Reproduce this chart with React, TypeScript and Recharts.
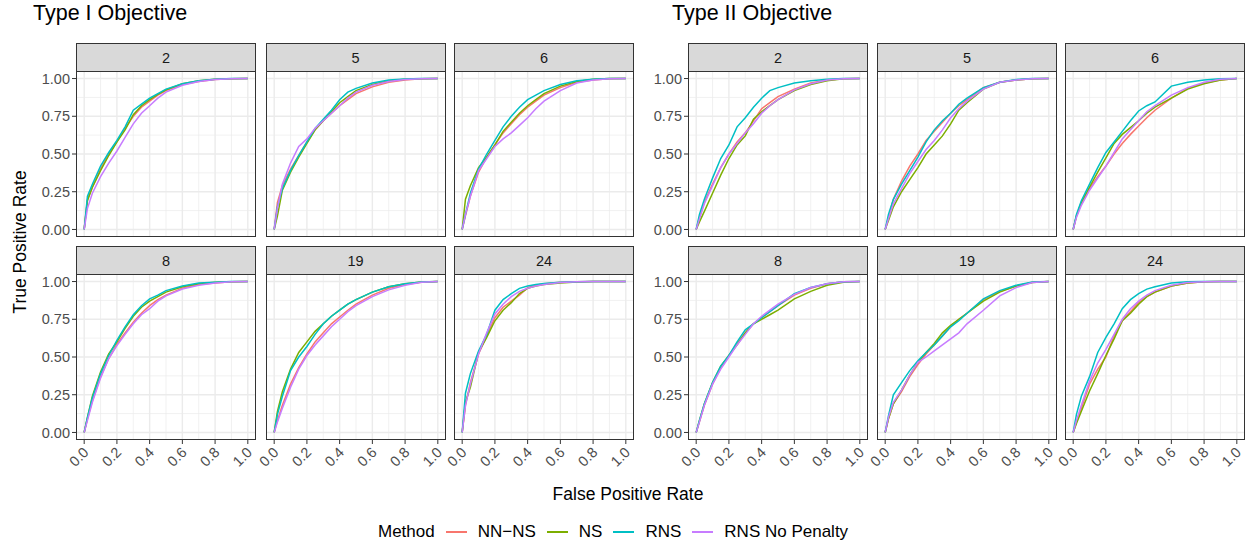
import { LineChart, Line, XAxis, YAxis, CartesianGrid } from 'recharts';

const fpr = [0, 0.02, 0.05, 0.1, 0.15, 0.2, 0.25, 0.3, 0.35, 0.4, 0.45, 0.5, 0.6, 0.7, 0.8, 0.9, 1.0];
const methods = ['NN-NS', 'NS', 'RNS', 'RNS No Penalty'];
const methodLabels = ['NN\u2212NS', 'NS', 'RNS', 'RNS No Penalty'];
const colors = ['#F8766D', '#7CAE00', '#00BFC4', '#C77CFF'];
const objectives = ['Type I Objective', 'Type II Objective'];
const facets = ['2', '5', '6', '8', '19', '24'];
const xTicks = [0, 0.2, 0.4, 0.6, 0.8, 1];
const yTicks = [0, 0.25, 0.5, 0.75, 1];
const xMinor = [0.1, 0.3, 0.5, 0.7, 0.9];
const yMinor = [0.125, 0.375, 0.625, 0.875];

// true positive rate at each fpr, rows: NN-NS, NS, RNS, RNS No Penalty
const tprI_2 = [
  [0, 0.20, 0.28, 0.40, 0.50, 0.58, 0.67, 0.75, 0.81, 0.85, 0.89, 0.92, 0.96, 0.98, 0.993, 0.999, 1],
  [0, 0.19, 0.28, 0.39, 0.49, 0.58, 0.66, 0.76, 0.82, 0.86, 0.895, 0.925, 0.965, 0.985, 0.995, 0.999, 1],
  [0, 0.22, 0.30, 0.42, 0.51, 0.59, 0.68, 0.79, 0.83, 0.87, 0.90, 0.93, 0.965, 0.985, 0.995, 1, 1],
  [0, 0.14, 0.24, 0.35, 0.44, 0.52, 0.61, 0.70, 0.77, 0.82, 0.87, 0.91, 0.955, 0.98, 0.993, 0.999, 1],
];
const tprI_5 = [
  [0, 0.18, 0.29, 0.40, 0.49, 0.58, 0.66, 0.72, 0.77, 0.82, 0.86, 0.90, 0.945, 0.975, 0.99, 0.998, 1],
  [0, 0.09, 0.26, 0.38, 0.48, 0.57, 0.66, 0.72, 0.78, 0.84, 0.88, 0.92, 0.96, 0.985, 0.995, 0.999, 1],
  [0, 0.15, 0.27, 0.39, 0.49, 0.58, 0.67, 0.73, 0.79, 0.86, 0.91, 0.935, 0.97, 0.99, 0.997, 1, 1],
  [0, 0.14, 0.30, 0.44, 0.55, 0.60, 0.67, 0.72, 0.77, 0.82, 0.87, 0.91, 0.955, 0.98, 0.993, 0.999, 1],
];
const tprI_6 = [
  [0, 0.09, 0.22, 0.38, 0.48, 0.56, 0.64, 0.70, 0.76, 0.81, 0.85, 0.89, 0.94, 0.975, 0.99, 0.999, 1],
  [0, 0.20, 0.29, 0.41, 0.48, 0.56, 0.65, 0.71, 0.77, 0.82, 0.86, 0.90, 0.95, 0.98, 0.995, 1, 1],
  [0, 0.10, 0.24, 0.40, 0.50, 0.59, 0.68, 0.75, 0.81, 0.86, 0.89, 0.92, 0.96, 0.985, 0.995, 1, 1],
  [0, 0.10, 0.22, 0.39, 0.47, 0.55, 0.60, 0.64, 0.69, 0.74, 0.80, 0.85, 0.92, 0.97, 0.99, 0.999, 1],
];
const tprI_8 = [
  [0, 0.09, 0.21, 0.37, 0.49, 0.585, 0.66, 0.73, 0.79, 0.84, 0.88, 0.91, 0.955, 0.98, 0.99, 0.998, 1],
  [0, 0.10, 0.24, 0.40, 0.52, 0.60, 0.69, 0.77, 0.83, 0.87, 0.90, 0.93, 0.965, 0.985, 0.995, 0.999, 1],
  [0, 0.10, 0.23, 0.39, 0.51, 0.61, 0.70, 0.78, 0.84, 0.885, 0.91, 0.94, 0.97, 0.99, 0.996, 1, 1],
  [0, 0.08, 0.20, 0.36, 0.49, 0.575, 0.65, 0.72, 0.78, 0.82, 0.87, 0.905, 0.95, 0.975, 0.99, 0.998, 1],
];
const tprI_19 = [
  [0, 0.08, 0.18, 0.32, 0.43, 0.52, 0.60, 0.66, 0.72, 0.765, 0.81, 0.85, 0.91, 0.955, 0.98, 0.995, 1],
  [0, 0.14, 0.27, 0.42, 0.53, 0.60, 0.67, 0.72, 0.77, 0.81, 0.85, 0.88, 0.93, 0.965, 0.985, 0.997, 1],
  [0, 0.12, 0.24, 0.41, 0.50, 0.57, 0.65, 0.72, 0.77, 0.81, 0.85, 0.88, 0.93, 0.965, 0.985, 0.997, 1],
  [0, 0.07, 0.16, 0.30, 0.42, 0.51, 0.58, 0.64, 0.70, 0.75, 0.80, 0.84, 0.90, 0.945, 0.975, 0.995, 1],
];
const tprI_24 = [
  [0, 0.18, 0.33, 0.52, 0.64, 0.76, 0.83, 0.87, 0.91, 0.96, 0.975, 0.985, 0.995, 0.999, 1, 1, 1],
  [0, 0.20, 0.30, 0.53, 0.63, 0.74, 0.81, 0.86, 0.92, 0.955, 0.97, 0.98, 0.99, 0.997, 1, 1, 1],
  [0, 0.26, 0.39, 0.54, 0.65, 0.81, 0.88, 0.92, 0.955, 0.97, 0.98, 0.987, 0.995, 0.999, 1, 1, 1],
  [0, 0.18, 0.32, 0.52, 0.66, 0.785, 0.85, 0.90, 0.935, 0.955, 0.97, 0.98, 0.993, 0.998, 1, 1, 1],
];
const tprII_2 = [
  [0, 0.08, 0.18, 0.30, 0.41, 0.50, 0.58, 0.64, 0.72, 0.80, 0.84, 0.88, 0.93, 0.97, 0.99, 0.998, 1],
  [0, 0.05, 0.12, 0.24, 0.36, 0.47, 0.56, 0.62, 0.73, 0.78, 0.82, 0.86, 0.92, 0.96, 0.985, 0.998, 1],
  [0, 0.10, 0.20, 0.34, 0.47, 0.56, 0.68, 0.74, 0.81, 0.87, 0.92, 0.94, 0.97, 0.985, 0.995, 1, 1],
  [0, 0.07, 0.17, 0.29, 0.41, 0.50, 0.57, 0.64, 0.70, 0.77, 0.82, 0.86, 0.925, 0.965, 0.99, 0.998, 1],
];
const tprII_5 = [
  [0, 0.08, 0.20, 0.32, 0.42, 0.50, 0.59, 0.65, 0.71, 0.77, 0.82, 0.86, 0.94, 0.975, 0.99, 0.999, 1],
  [0, 0.06, 0.15, 0.25, 0.33, 0.41, 0.50, 0.56, 0.62, 0.70, 0.79, 0.84, 0.93, 0.975, 0.99, 0.999, 1],
  [0, 0.10, 0.20, 0.30, 0.39, 0.48, 0.58, 0.66, 0.72, 0.77, 0.83, 0.87, 0.94, 0.975, 0.993, 1, 1],
  [0, 0.07, 0.17, 0.27, 0.37, 0.45, 0.53, 0.59, 0.66, 0.74, 0.80, 0.85, 0.93, 0.975, 0.99, 0.999, 1],
];
const tprII_6 = [
  [0, 0.09, 0.17, 0.27, 0.35, 0.42, 0.50, 0.57, 0.63, 0.685, 0.74, 0.79, 0.87, 0.935, 0.97, 0.99, 1],
  [0, 0.09, 0.18, 0.28, 0.38, 0.475, 0.57, 0.63, 0.675, 0.72, 0.77, 0.81, 0.87, 0.93, 0.965, 0.99, 1],
  [0, 0.10, 0.19, 0.30, 0.41, 0.51, 0.58, 0.65, 0.72, 0.785, 0.82, 0.845, 0.95, 0.975, 0.99, 0.998, 1],
  [0, 0.08, 0.16, 0.26, 0.34, 0.42, 0.51, 0.60, 0.66, 0.72, 0.78, 0.82, 0.89, 0.94, 0.975, 0.995, 1],
];
const tprII_8 = [
  [0, 0.07, 0.18, 0.32, 0.43, 0.51, 0.59, 0.66, 0.72, 0.76, 0.80, 0.84, 0.91, 0.955, 0.985, 0.998, 1],
  [0, 0.08, 0.19, 0.33, 0.44, 0.51, 0.58, 0.66, 0.72, 0.75, 0.78, 0.81, 0.885, 0.935, 0.975, 0.995, 1],
  [0, 0.08, 0.19, 0.33, 0.44, 0.51, 0.60, 0.68, 0.72, 0.76, 0.80, 0.84, 0.92, 0.96, 0.985, 0.998, 1],
  [0, 0.07, 0.18, 0.32, 0.42, 0.50, 0.58, 0.65, 0.72, 0.77, 0.81, 0.85, 0.915, 0.96, 0.985, 0.998, 1],
];
const tprII_19 = [
  [0, 0.09, 0.19, 0.27, 0.37, 0.45, 0.52, 0.58, 0.64, 0.70, 0.75, 0.79, 0.88, 0.935, 0.97, 0.995, 1],
  [0, 0.09, 0.19, 0.28, 0.38, 0.465, 0.53, 0.59, 0.66, 0.71, 0.75, 0.79, 0.87, 0.93, 0.97, 0.993, 1],
  [0, 0.11, 0.25, 0.33, 0.41, 0.475, 0.53, 0.58, 0.64, 0.70, 0.74, 0.79, 0.885, 0.94, 0.975, 0.997, 1],
  [0, 0.10, 0.20, 0.28, 0.38, 0.465, 0.50, 0.54, 0.58, 0.62, 0.66, 0.72, 0.81, 0.905, 0.96, 0.993, 1],
];
const tprII_24 = [
  [0, 0.07, 0.16, 0.32, 0.42, 0.50, 0.64, 0.74, 0.80, 0.86, 0.90, 0.93, 0.97, 0.99, 0.998, 1, 1],
  [0, 0.06, 0.14, 0.275, 0.39, 0.51, 0.62, 0.74, 0.79, 0.85, 0.90, 0.93, 0.97, 0.99, 0.998, 1, 1],
  [0, 0.12, 0.24, 0.37, 0.53, 0.63, 0.72, 0.82, 0.88, 0.92, 0.95, 0.965, 0.99, 0.998, 1, 1, 1],
  [0, 0.08, 0.18, 0.34, 0.46, 0.55, 0.65, 0.75, 0.82, 0.87, 0.91, 0.94, 0.975, 0.993, 0.999, 1, 1],
];

const panelData = [
  [tprI_2, tprI_5, tprI_6, tprI_8, tprI_19, tprI_24],
  [tprII_2, tprII_5, tprII_6, tprII_8, tprII_19, tprII_24],
];

const FONT = '"Liberation Sans", Arial, Helvetica, sans-serif';
const groupLefts = [[76, 265.5, 454], [688, 877, 1065]];
const rowTops = [71, 274];
const PW = 180;
const PH = 166;
const STRIP = 28;
const YW = 42;
const XH = 40;
const XPAD = 16;

const toRows = (tpr: number[][]) =>
  fpr.map((x, i) => {
    const row: Record<string, number> = { fpr: x };
    methods.forEach((m, k) => (row[m] = tpr[k][i]));
    return row;
  });

const XTick = (props: any) => {
  const { x, y, payload } = props;
  return (
    <text
      x={x - 2}
      y={y}
      dy="0.71em"
      textAnchor="end"
      transform={`rotate(-45, ${x - 2}, ${y})`}
      fill="#4D4D4D"
      fontSize={14.5}
      fontFamily={FONT}
    >
      {Number(payload.value).toFixed(1)}
    </text>
  );
};

const Panel = ({ g, idx }: { g: number; idx: number }) => {
  const r = Math.floor(idx / 3);
  const c = idx % 3;
  const showY = c === 0;
  const showX = r === 1;
  const left = groupLefts[g][c];
  const top = rowTops[r];
  const rows = toRows(panelData[g][idx]);
  const pad = showY ? YW : showX ? XPAD : 0;
  return (
    <>
      <div
        style={{
          position: 'absolute', left, top: top - STRIP, width: PW, height: STRIP + 1,
          boxSizing: 'border-box', background: '#D9D9D9', border: '1px solid #333333',
          display: 'flex', alignItems: 'center', justifyContent: 'center',
          fontSize: 14.5, color: '#1A1A1A', fontFamily: FONT,
        }}
      >
        {facets[idx]}
      </div>
      <div style={{ position: 'absolute', left: left - pad, top }}>
        <LineChart
          width={PW + pad}
          height={PH + (showX ? XH : 0)}
          data={rows}
          margin={{ top: 0, right: 0, bottom: 0, left: showY ? 0 : pad }}
        >
          <CartesianGrid
            stroke="#EBEBEB"
            strokeWidth={0.7}
            horizontalValues={yMinor}
            verticalValues={xMinor}
          />
          <CartesianGrid
            stroke="#EBEBEB"
            strokeWidth={1.4}
            horizontalValues={yTicks}
            verticalValues={xTicks}
          />
          <XAxis
            type="number"
            dataKey="fpr"
            domain={[-0.05, 1.05]}
            ticks={xTicks}
            hide={!showX}
            height={XH}
            axisLine={false}
            tickSize={4}
            tickLine={{ stroke: '#333333' }}
            tick={<XTick />}
            interval={0}
          />
          <YAxis
            type="number"
            domain={[-0.05, 1.05]}
            ticks={yTicks}
            hide={!showY}
            width={YW}
            axisLine={false}
            tickSize={4}
            tickLine={{ stroke: '#333333' }}
            tickFormatter={(v: number) => v.toFixed(2)}
            tick={{ fill: '#4D4D4D', fontSize: 14.5, fontFamily: FONT }}
            interval={0}
          />
          {methods.map((m, k) => (
            <Line
              key={m}
              type="linear"
              dataKey={m}
              stroke={colors[k]}
              strokeWidth={1.5}
              dot={false}
              isAnimationActive={false}
            />
          ))}
        </LineChart>
      </div>
      <div
        style={{
          position: 'absolute', left, top, width: PW, height: PH,
          boxSizing: 'border-box', border: '1px solid #333333', pointerEvents: 'none',
        }}
      />
    </>
  );
};

export default function App() {
  return (
    <div
      style={{
        position: 'absolute', left: 0, top: 0, width: 1253, height: 544,
        background: '#FFFFFF', fontFamily: FONT, overflow: 'hidden',
      }}
    >
      {objectives.map((t, g) => (
        <div
          key={t}
          style={{ position: 'absolute', left: g === 0 ? 33 : 672, top: 1, fontSize: 21.5, color: '#000' }}
        >
          {t}
        </div>
      ))}
      {[0, 1].map((g) => facets.map((f, idx) => <Panel key={`${g}-${f}`} g={g} idx={idx} />))}
      <div
        style={{
          position: 'absolute', left: 20, top: 242, transform: 'translate(-50%, -50%) rotate(-90deg)',
          fontSize: 17.5, whiteSpace: 'nowrap', color: '#000',
        }}
      >
        True Positive Rate
      </div>
      <div
        style={{
          position: 'absolute', left: 628, top: 494, transform: 'translate(-50%, -50%)',
          fontSize: 17.5, whiteSpace: 'nowrap', color: '#000',
        }}
      >
        False Positive Rate
      </div>
      <div
        style={{
          position: 'absolute', left: 378, top: 532, transform: 'translateY(-50%)',
          display: 'flex', alignItems: 'center', fontSize: 17, color: '#000', whiteSpace: 'nowrap',
        }}
      >
        <span style={{ marginRight: 11 }}>Method</span>
        {methodLabels.map((l, k) => (
          <span key={l} style={{ display: 'flex', alignItems: 'center', marginRight: 11 }}>
            <span style={{ display: 'inline-block', width: 21, height: 2, background: colors[k], marginRight: 11 }} />
            {l}
          </span>
        ))}
      </div>
    </div>
  );
}
